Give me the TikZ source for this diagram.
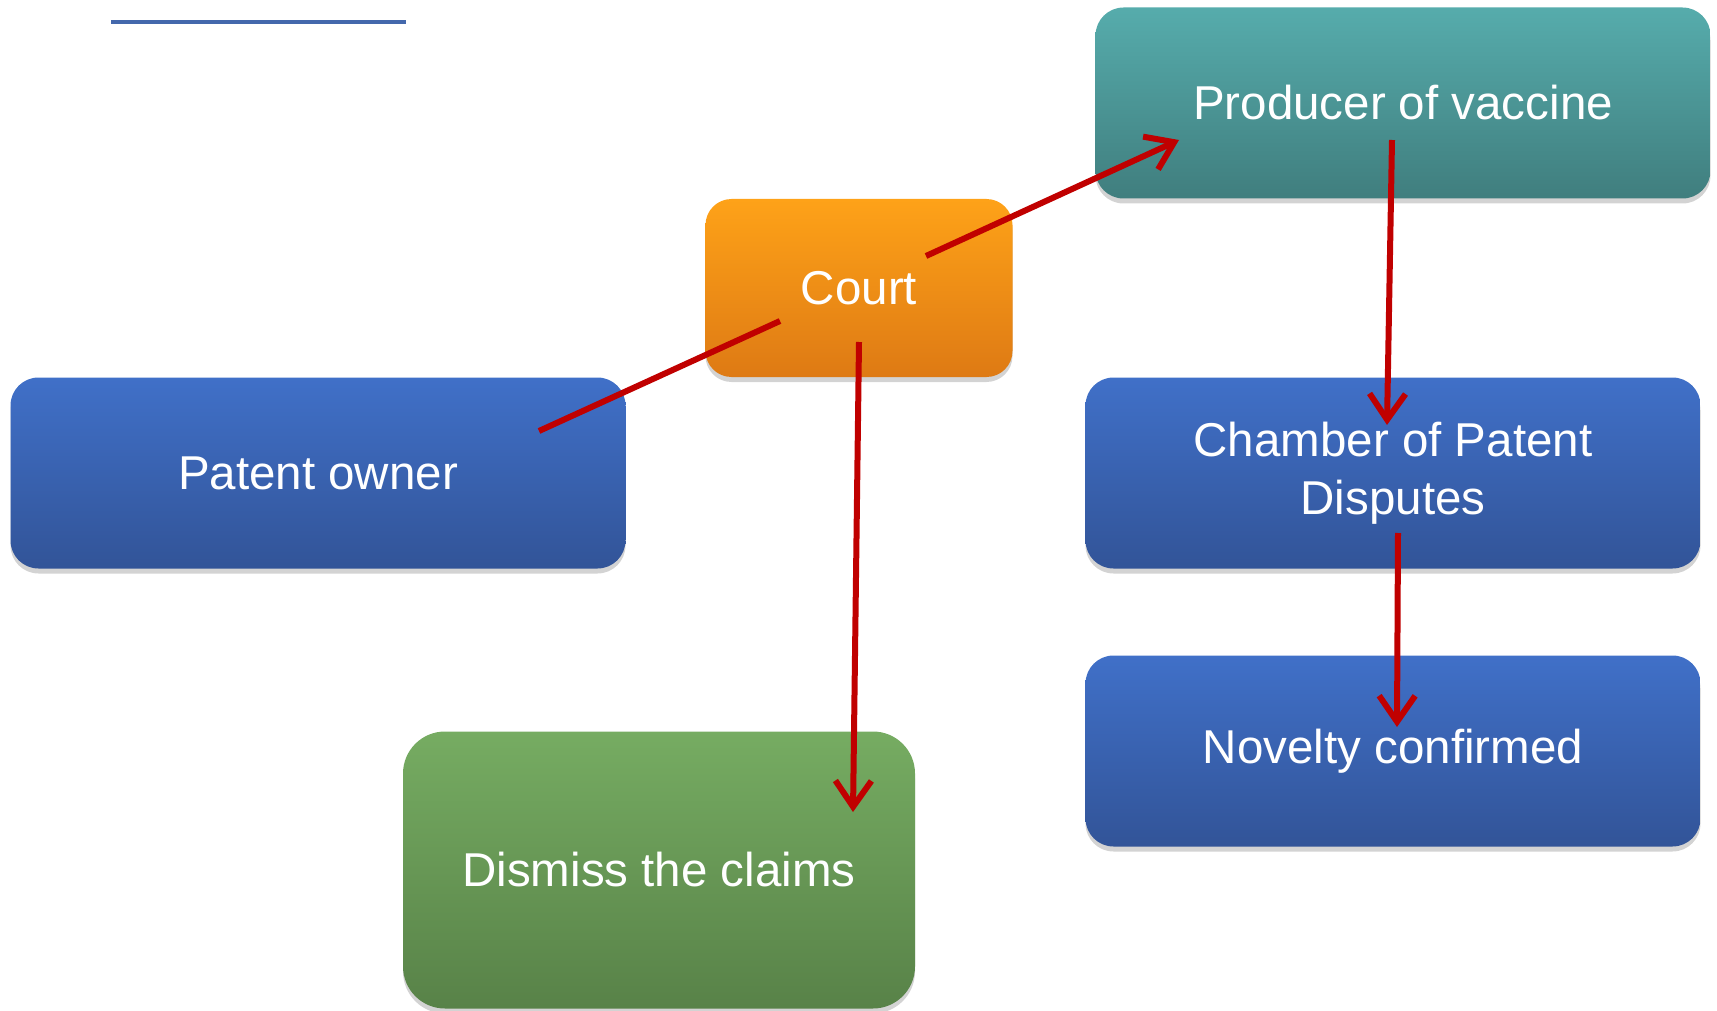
\documentclass[tikz,border=0pt]{standalone}
\usepackage{fontspec}
\setmainfont{Liberation Sans}
\usetikzlibrary{arrows.meta,shadows}
\definecolor{linkred}{RGB}{192,0,0}
\definecolor{rulebl}{RGB}{68,104,172}
\definecolor{bluetop}{RGB}{64,112,200}
\definecolor{bluebot}{RGB}{50,84,152}
\definecolor{tealtop}{RGB}{86,172,172}
\definecolor{tealbot}{RGB}{64,126,126}
\definecolor{orangetop}{RGB}{254,162,24}
\definecolor{orangebot}{RGB}{222,122,20}
\definecolor{greentop}{RGB}{118,172,98}
\definecolor{greenbot}{RGB}{88,130,72}
\begin{document}
\begin{tikzpicture}[x=1pt,y=-1pt,
  every node/.style={font=\fontsize{47.5}{58}\selectfont,text=white,align=center},
  box/.style={rounded corners=28pt,minimum width=615pt,minimum height=191pt,
    drop shadow={shadow xshift=0pt,shadow yshift=-5pt,opacity=.35}},
  bluebox/.style={top color=bluetop,bottom color=bluebot},
  tealbox/.style={top color=tealtop,bottom color=tealbot},
  orangebox/.style={top color=orangetop,bottom color=orangebot},
  greenbox/.style={top color=greentop,bottom color=greenbot},
  link/.style={draw=linkred,line width=6pt},
  head/.style={-{Straight Barb[length=26pt,width=36pt]}}]
  \useasboundingbox (0,0) rectangle (1717,1011);
  \draw[rulebl,line width=4pt] (111,22) -- (406,22);
  % boxes
  \node[box,tealbox] (producer) at (1403,103) {Producer of vaccine};
  \node[box,orangebox,minimum width=307pt,minimum height=178pt,rounded corners=26pt] (court) at (859,288) {Court};
  \node[box,bluebox] (owner) at (318,473) {Patent owner};
  \node[box,bluebox] (chamber) at (1393,473) {Chamber of Patent\\Disputes};
  \node[box,bluebox] (novelty) at (1393,751) {Novelty confirmed};
  \node[box,greenbox,minimum width=512pt,minimum height=277pt,rounded corners=42pt] (dismiss) at (659,870) {Dismiss the claims};
  % connector ends
  \path (owner.center) ++(221,-42) coordinate (ownerOut);
  \path (court.center) ++(-79,33) coordinate (courtIn);
  \path (court.center) ++(67,-32) coordinate (courtOut);
  \path (court.center) ++(0,54) coordinate (courtDown);
  \path (producer.center) ++(-224,37) coordinate (producerIn);
  \path (producer.center) ++(-11,37) coordinate (producerOut);
  \path (chamber.center) ++(-6,-48) coordinate (chamberIn);
  \path (chamber.center) ++(5,60) coordinate (chamberOut);
  \path (novelty.center) ++(4,-24) coordinate (noveltyIn);
  \path (dismiss.center) ++(194,-58) coordinate (dismissIn);
  % connectors
  \draw[link] (ownerOut) -- (courtIn);
  \draw[link,head] (courtOut) -- (producerIn);
  \draw[link,head] (courtDown) -- (dismissIn);
  \draw[link,head] (producerOut) -- (chamberIn);
  \draw[link,head] (chamberOut) -- (noveltyIn);
\end{tikzpicture}
\end{document}
